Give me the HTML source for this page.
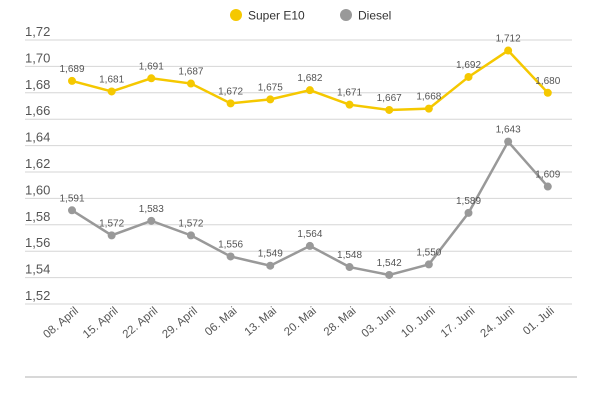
<!DOCTYPE html>
<html><head><meta charset="utf-8"><style>
body{margin:0;background:#fff;width:600px;height:400px;overflow:hidden}
text{font-family:"Liberation Sans",sans-serif}
</style></head><body>
<svg id="s" width="600" height="400" xmlns="http://www.w3.org/2000/svg"></svg>
<script>
const s=document.getElementById('s');
let h='';
const Y=v=>40+(1.72-v)/0.02*26.4;
for(let i=0;i<=10;i++){const v=1.72-i*0.02,y=40+i*26.4;
h+=`<line x1="25" x2="572" y1="${y}" y2="${y}" stroke="#d6d6d6" stroke-width="1"/>`;
h+=`<text x="25" y="${y-4}" font-size="13" fill="#555">${v.toFixed(2).replace('.',',')}</text>`;}
h+=`<line x1="25" x2="577" y1="377" y2="377" stroke="#ccc" stroke-width="1.5"/>`;
const labs=["08. April","15. April","22. April","29. April","06. Mai","13. Mai","20. Mai","28. Mai","03. Juni","10. Juni","17. Juni","24. Juni","01. Juli"];
const e=[1.689,1.681,1.691,1.687,1.672,1.675,1.682,1.671,1.667,1.668,1.692,1.712,1.680];
const d=[1.591,1.572,1.583,1.572,1.556,1.549,1.564,1.548,1.542,1.550,1.589,1.643,1.609];
const X=i=>72+i*39.65;
labs.forEach((l,i)=>{h+=`<text transform="translate(${X(i)+7},312) rotate(-40)" text-anchor="end" font-size="11.5" fill="#555">${l}</text>`});
function ser(a,c){h+=`<polyline fill="none" stroke="${c}" stroke-width="2.5" points="${a.map((v,i)=>X(i)+','+Y(v)).join(' ')}"/>`;
a.forEach((v,i)=>{h+=`<circle cx="${X(i)}" cy="${Y(v)}" r="4" fill="${c}"/><text x="${X(i)}" y="${Y(v)-9}" text-anchor="middle" font-size="10" fill="#555">${v.toFixed(3).replace('.',',')}</text>`});}
ser(e,'#f5c800');ser(d,'#999');
h+=`<circle cx="236" cy="15" r="6" fill="#f5c800"/><text x="248" y="19.5" font-size="12" fill="#333">Super E10</text>`;
h+=`<circle cx="346" cy="15" r="6" fill="#999"/><text x="358" y="19.5" font-size="12" fill="#333">Diesel</text>`;
s.innerHTML=h;
</script>
</body></html>
